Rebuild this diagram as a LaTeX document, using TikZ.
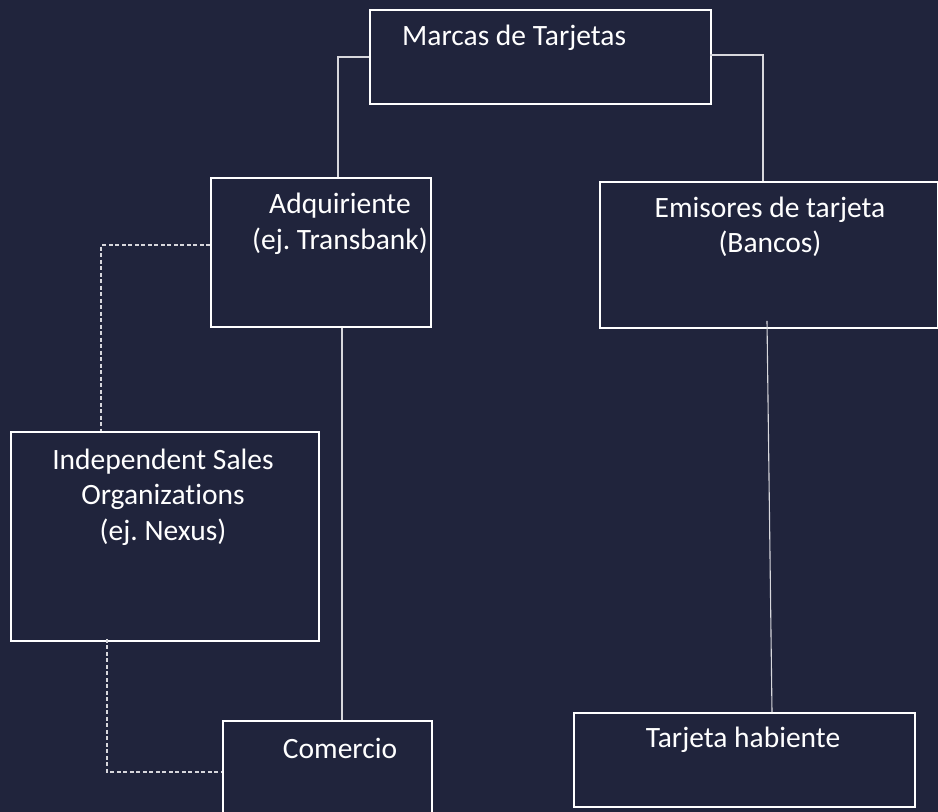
\documentclass[tikz,border=0pt]{standalone}
\usepackage{fontspec}
\setmainfont{Carlito}[Ligatures=NoCommon]
\frenchspacing
\definecolor{bg}{RGB}{32,36,60}
\definecolor{conn}{RGB}{215,215,220}
\begin{document}
\begin{tikzpicture}[x=1pt,y=-1pt,
  box/.style={draw=white,line width=1.8pt,inner sep=0pt,anchor=north west},
  lbl/.style={text=white,font=\fontsize{29.5}{35.5}\selectfont,align=center,inner sep=0pt},
  wire/.style={draw=conn,line width=1.1pt},
  dwire/.style={draw=conn,line width=1.1pt,dash pattern=on 4pt off 2.5pt}]
\fill[bg] (0,0) rectangle (938,812);
\useasboundingbox (0,0) rectangle (938,812);
% boxes
\node[box,minimum width=341pt,minimum height=94pt] (marcas) at (369,9) {};
\node[box,minimum width=220pt,minimum height=149pt] (adq) at (210,177) {};
\node[box,minimum width=338pt,minimum height=146pt] (emi) at (599,181) {};
\node[box,minimum width=308pt,minimum height=209pt] (iso) at (10,431) {};
\node[box,minimum width=209pt,minimum height=110pt] (com) at (222,720) {};
\node[box,minimum width=341pt,minimum height=94pt] (tar) at (573,712) {};
% texts
\node[lbl,anchor=west] (tmarcas) at (402,38) {Marcas de Tarjetas};
\node[lbl] (tadq) at (340,224) {Adquiriente\\(ej. Transbank)};
\node[lbl] (temi) at (770,227) {Emisores de tarjeta\\(Bancos)};
\node[lbl] (tiso) at (163,497) {Independent Sales\\Organizations\\(ej. Nexus)};
\node[lbl] (tcom) at (340,748) {Comercio};
\node[lbl] (ttar) at (743,740) {Tarjeta habiente};
% connectors
\coordinate (m1) at (369,57);
\coordinate (m2) at (710,55);
\draw[wire] (m1) -| (adq.north -| 338,0);
\draw[wire] (m2) -| (emi.north -| 763,0);
\draw[wire] (adq.south -| 342,0) -- (com.north -| 342,0);
\draw[wire] ([yshift=8pt]emi.south -| 767,0) -- (tar.north -| 772,0);
\draw[dwire] (adq.west |- 0,245) -| (iso.north -| 101,0);
\draw[dwire] ([yshift=3pt]iso.south -| 107,0) |- (com.west |- 0,772);
\end{tikzpicture}
\end{document}
